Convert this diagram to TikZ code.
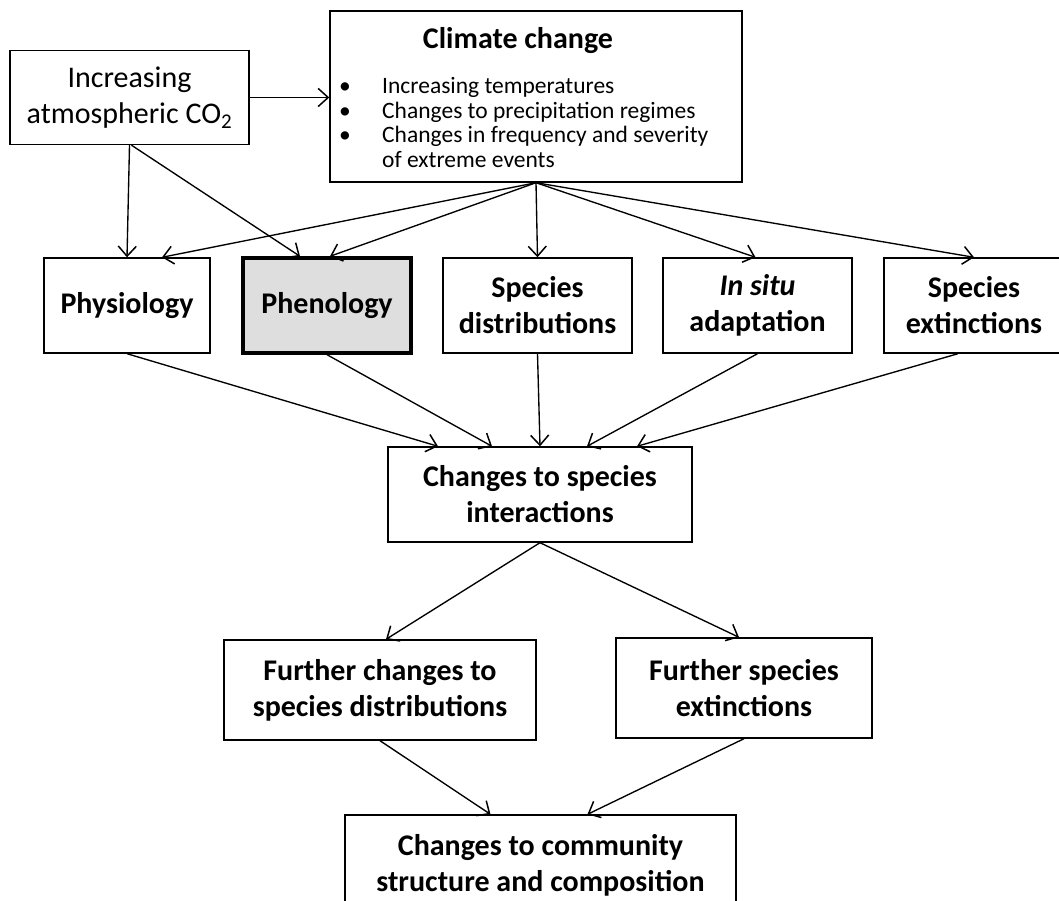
\documentclass[tikz,border=0pt]{standalone}
\usepackage{fontspec}
\setmainfont{Carlito}
\usetikzlibrary{arrows.meta,calc}
\definecolor{phenfill}{RGB}{222,222,222}
\begin{document}
\begin{tikzpicture}[x=1pt,y=-1pt,
  box/.style={draw=black, line width=1.4pt, align=center, inner sep=0pt,
    font=\fontsize{30}{36}\selectfont\bfseries},
  arr/.style={-{Straight Barb[length=10pt,width=18pt,line width=1.5pt]}, line width=1.35pt},
  bul/.style={font=\fontsize{23.5}{24.5}\selectfont, anchor=base west, inner sep=0pt}]
\clip (0,0) rectangle (1059,901);
\fill[white] (0,0) rectangle (1059,901);
% top row
\node[box, font=\fontsize{30}{36}\selectfont, minimum width=239pt, minimum height=94pt] (co2) at (129.5,97.5)
  {Increasing\\atmospheric CO\textsubscript{2}};
\node[box, minimum width=412pt, minimum height=171pt] (clim) at (536,96.5) {};
\node[anchor=base, inner sep=0pt, font=\fontsize{30}{36}\selectfont\bfseries] (climtitle) at (518,49) {Climate change};
\node[bul] (cl1) at (339,94) {\makebox[43pt][l]{\textbullet}Increasing temperatures};
\node[bul] (cl2) at (339,118.5) {\makebox[43pt][l]{\textbullet}Changes to precipitation regimes};
\node[bul] (cl3) at (339,143) {\makebox[43pt][l]{\textbullet}Changes in frequency and severity};
\node[bul] (cl4) at (382,167.5) {of extreme events};
% second row
\node[box, minimum width=166pt, minimum height=95pt] (phys) at (127,305.5) {Physiology};
\node[box, line width=3.4pt, fill=phenfill, minimum width=168pt, minimum height=95pt] (phen) at (327,305.5) {Phenology};
\node[box, minimum width=189pt, minimum height=95pt] (sd) at (537.5,305.5) {Species\\distributions};
\node[box, minimum width=189pt, minimum height=95pt] (ins) at (757.5,305.5) {\textit{In situ}\\adaptation};
\node[box, minimum width=180pt, minimum height=95pt] (spx) at (974,305.5) {Species\\extinctions};
% middle
\node[box, minimum width=304pt, minimum height=95pt] (mid) at (540,494.5) {Changes to species\\interactions};
% further
\node[box, minimum width=312pt, minimum height=100pt] (fcd) at (380,690) {Further changes to\\species distributions};
\node[box, minimum width=256pt, minimum height=100pt] (fse) at (744,688) {Further species\\extinctions};
% community
\node[box, minimum width=391pt, minimum height=100pt] (comm) at (540.5,865) {Changes to community\\structure and composition};
% connectors
\draw[arr] (co2.east) -- (co2.east -| clim.west);
\draw[arr] (co2.south) -- (phys.north);
\draw[arr] ([xshift=2pt]co2.south) -- ([xshift=-27pt]phen.north);
\draw[arr] (clim.south) -- ([xshift=35pt]phys.north);
\draw[arr] (clim.south) -- ([xshift=3pt]phen.north);
\draw[arr] (clim.south) -- (sd.north);
\draw[arr] (clim.south) -- ([xshift=-2pt]ins.north);
\draw[arr] (clim.south) -- (spx.north);
\draw[arr] (phys.south) -- ([xshift=-102pt]mid.north);
\draw[arr] (phen.south) -- ([xshift=-48pt]mid.north);
\draw[arr] (sd.south) -- (mid.north);
\draw[arr] (ins.south) -- ([xshift=47pt]mid.north);
\draw[arr] ([xshift=-16pt]spx.south) -- ([xshift=97pt]mid.north);
\draw[arr] (mid.south) -- ([xshift=6pt]fcd.north);
\draw[arr] (mid.south) -- ([xshift=-5pt]fse.north);
\draw[arr] (fcd.south) -- ([xshift=-50pt]comm.north);
\draw[arr] (fse.south) -- ([xshift=47pt]comm.north);
\end{tikzpicture}
\end{document}
